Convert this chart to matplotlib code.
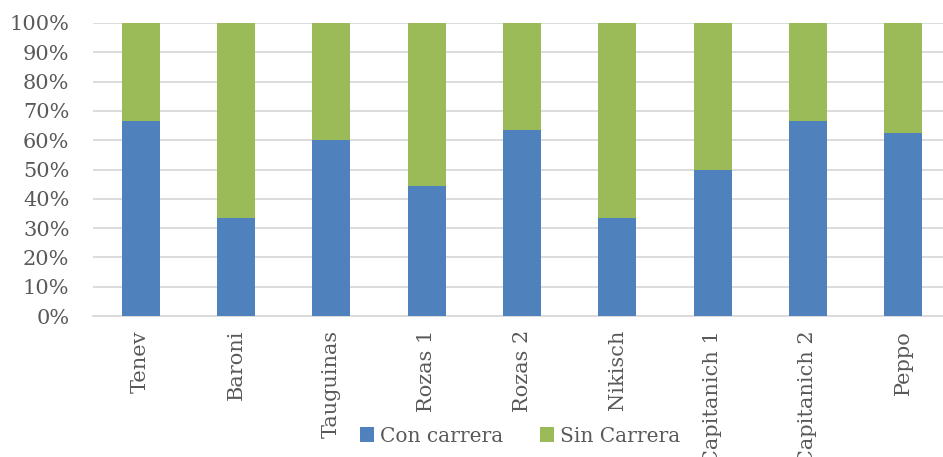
import numpy as np
import matplotlib
matplotlib.use('Agg')
from matplotlib import pyplot as plt
from matplotlib.ticker import PercentFormatter

# Datos del gráfico (porcentaje con carrera por categoría)
categorias = ['Tenev', 'Baroni', 'Tauguinas', 'Rozas 1', 'Rozas 2',
              'Nikisch', 'Capitanich 1', 'Capitanich 2', 'Peppo']
con_carrera = [66.7, 33.3, 60.0, 44.4, 63.6, 33.3, 50.0, 66.7, 62.5]
sin_carrera = [100 - v for v in con_carrera]

plt.rcParams['font.family'] = ['DejaVu Serif']
texto = '#595959'

fig = plt.figure(figsize=(9.43, 4.57), dpi=100)
# El área de trazado se sale un poco por la derecha, como en el original
ax = fig.add_axes([93 / 943, 1 - 316 / 457, 858 / 943, 293 / 457])

x = np.arange(len(categorias))
ax.bar(x, con_carrera, width=0.4, color='#4F81BD', label='Con carrera', zorder=3)
ax.bar(x, sin_carrera, width=0.4, bottom=con_carrera, color='#9BBB59',
       label='Sin Carrera', zorder=3)

ax.set_xlim(-0.5, len(categorias) - 0.5)
ax.set_ylim(0, 100)
ax.set_yticks(np.arange(0, 101, 10))
ax.yaxis.set_major_formatter(PercentFormatter(decimals=0))
ax.grid(axis='y', color='#D9D9D9', linewidth=1.3, zorder=0)

ax.set_xticks(x)
ax.set_xticklabels(categorias, rotation=90, fontsize=15, color=texto)
ax.tick_params(axis='y', labelsize=15, labelcolor=texto, length=0, pad=17)
ax.tick_params(axis='x', length=0, pad=10)

for s in ['top', 'right', 'left']:
    ax.spines[s].set_visible(False)
ax.spines['bottom'].set_color('#D9D9D9')
ax.spines['bottom'].set_linewidth(1.3)

fig.legend(loc='center', bbox_to_anchor=(520 / 943, 1 - 436 / 457), ncol=2,
           frameon=False, fontsize=14.5, labelcolor=texto, handlelength=0.7,
           handleheight=0.7, handletextpad=0.3, columnspacing=1.8)

fig.savefig('out.png', dpi=100)
